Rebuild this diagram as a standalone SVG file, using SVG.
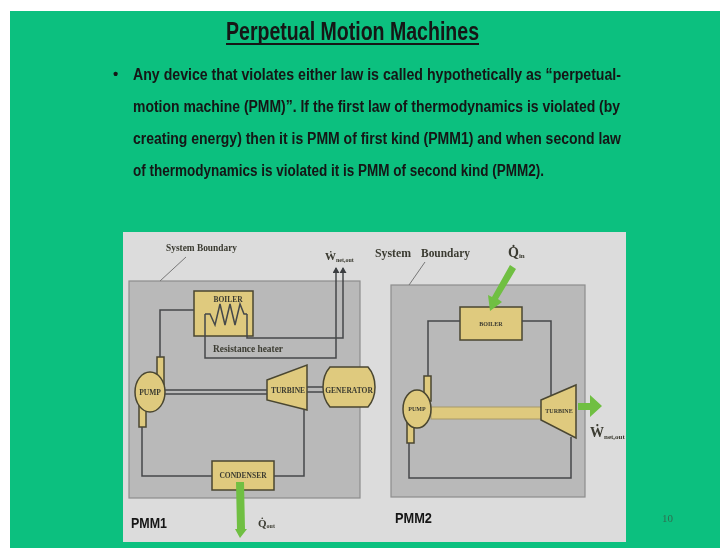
<svg xmlns="http://www.w3.org/2000/svg" width="720" height="548" viewBox="0 0 720 548">
<defs>
<filter id="soft" x="-5%" y="-5%" width="110%" height="110%"><feGaussianBlur stdDeviation="0.5"/></filter>
<marker id="tip" markerWidth="6" markerHeight="7" refX="5" refY="3.5" orient="auto" markerUnits="userSpaceOnUse"><path d="M0 0L6 3.5L0 7Z" fill="#3a3d40"/></marker>
</defs>
<style>
.s{font-family:"Liberation Sans",Arial,sans-serif;font-weight:700;fill:#141414}
.t{font-family:"Liberation Serif","Times New Roman",serif;font-weight:700;fill:#3a3a30}
.b{font-size:16px}
.n{font-size:7.5px;text-anchor:middle}
.sys{fill:#b9b9b9;stroke:#8d8d8d;stroke-width:1.2}
.eq{fill:#dfca7e;stroke:#4a4630;stroke-width:1.5}
.w{fill:none;stroke:#45484a;stroke-width:1.5}
.g{fill:#6fbf42;stroke:none}
</style>
<rect x="10" y="11" width="710" height="537" fill="#0cc07f"/>
<g filter="url(#soft)">
<text class="s" x="226" y="40" font-size="26" textLength="253" lengthAdjust="spacingAndGlyphs">Perpetual Motion Machines</text>
<rect x="226" y="43" width="253" height="2" fill="#141414"/>
<text class="s" font-size="15" x="113" y="79">•</text>
<text class="s b" x="133" y="80" textLength="488" lengthAdjust="spacingAndGlyphs">Any device that violates either law is called hypothetically as “perpetual-</text>
<text class="s b" x="133" y="112" textLength="487" lengthAdjust="spacingAndGlyphs">motion machine (PMM)”. If the first law of thermodynamics is violated (by</text>
<text class="s b" x="133" y="144" textLength="488" lengthAdjust="spacingAndGlyphs">creating energy) then it is PMM of first kind (PMM1) and when second law</text>
<text class="s b" x="133" y="176" textLength="411" lengthAdjust="spacingAndGlyphs">of thermodynamics is violated it is PMM of second kind (PMM2).</text>
<rect x="123" y="232" width="503" height="310" fill="#dcdcdc"/>
<rect class="sys" x="129" y="281" width="231" height="217"/>
<rect class="sys" x="391" y="285" width="194" height="212"/>
<g id="boiler1"><rect class="eq" x="194" y="291" width="59" height="45"/><text class="t n" x="228" y="302">BOILER</text></g>
<g id="pump1"><rect class="eq" x="157" y="357" width="7" height="30"/><rect class="eq" x="139" y="400" width="7" height="27"/><ellipse class="eq" cx="150" cy="392" rx="15" ry="20"/><text class="t n" x="150" y="395">PUMP</text></g>
<g id="turbine1"><path class="eq" d="M267 380L307 365V410L267 400Z"/><text class="t n" x="288" y="393">TURBINE</text></g>
<g id="generator"><path class="eq" d="M330 367H368Q375 375 375 387Q375 399 368 407H330Q323 399 323 387Q323 375 330 367Z"/><text class="t n" x="349" y="393">GENERATOR</text></g>
<g id="condenser"><rect class="eq" x="212" y="461" width="62" height="29"/><text class="t n" x="243" y="478">CONDENSER</text></g>
<g id="boiler2"><rect class="eq" x="460" y="307" width="62" height="33"/><text class="t" font-size="6" text-anchor="middle" x="491" y="326">BOILER</text></g>
<g id="shaft2"><rect x="431" y="407" width="111" height="12" fill="#dfca7e" stroke="#a89a68" stroke-width="1"/></g>
<g id="pump2"><rect class="eq" x="424" y="376" width="7" height="25"/><rect class="eq" x="407" y="420" width="7" height="23"/><ellipse class="eq" cx="417" cy="409" rx="14" ry="19"/><text class="t" font-size="6" text-anchor="middle" x="417" y="411">PUMP</text></g>
<g id="turbine2"><path class="eq" d="M541 400L576 385V438L541 420Z"/><text class="t" font-size="6" text-anchor="middle" x="559" y="413">TURBINE</text></g>
<g id="connectors">
<path class="w" d="M160 357V310H194"/>
<path class="w" d="M142 427V476H212"/>
<path class="w" d="M274 476H304V410"/>
<path class="w" d="M205 314V358H336V268" marker-end="url(#tip)"/>
<path class="w" d="M247 314V338H343V268" marker-end="url(#tip)"/>
<path class="w" d="M205 314H210L215 325L220 304L225 325L230 304L235 325L240 304L244 314H247"/>
<path class="w" style="stroke-width:1;stroke:#777" d="M160 281L186 257"/>
<path class="w" d="M165 390H267M165 394H267M307 387H323M307 392H323"/>
<path class="w" d="M428 376V321H460"/>
<path class="w" d="M522 321H551V395"/>
<path class="w" d="M409 443V478H571V437"/>
<path class="w" style="stroke-width:1;stroke:#777" d="M409 285L425 262"/>
<path class="g" d="M236 482H244L245 529H247L240 538L235 529H237Z"/>
<path class="g" d="M510 265L516 269L498 299L502 302L490 311L488 295L492 297Z"/>
<path class="g" d="M578 403H590V395L602 406L590 417V410H578Z"/>
</g>
<text class="t" font-size="10.5" x="166" y="251" textLength="71" lengthAdjust="spacingAndGlyphs">System Boundary</text>
<text class="t" font-size="10" x="213" y="352" textLength="70" lengthAdjust="spacingAndGlyphs">Resistance heater</text>
<text class="t" font-size="11" x="325" y="260">Ẇ<tspan font-size="6" dy="2">net,out</tspan></text>
<text class="t" font-size="13" x="375" y="257" textLength="36" lengthAdjust="spacingAndGlyphs">System</text>
<text class="t" font-size="13" x="421" y="257" textLength="49" lengthAdjust="spacingAndGlyphs">Boundary</text>
<text class="t" font-size="14" x="508" y="257">Q̇<tspan font-size="7" dy="1">in</tspan></text>
<text class="t" font-size="14" x="590" y="437">Ẇ<tspan font-size="7" dy="2">net,out</tspan></text>
<text class="t" font-size="11" x="258" y="527">Q̇<tspan font-size="6" dy="1">out</tspan></text>
<text class="s" font-size="15" x="131" y="528" textLength="36" lengthAdjust="spacingAndGlyphs">PMM1</text>
<text class="s" font-size="15" x="395" y="523" textLength="37" lengthAdjust="spacingAndGlyphs">PMM2</text>
<text class="t" font-size="11" x="662" y="522" style="fill:#2f6e50;font-weight:400">10</text>
</g>
</svg>
